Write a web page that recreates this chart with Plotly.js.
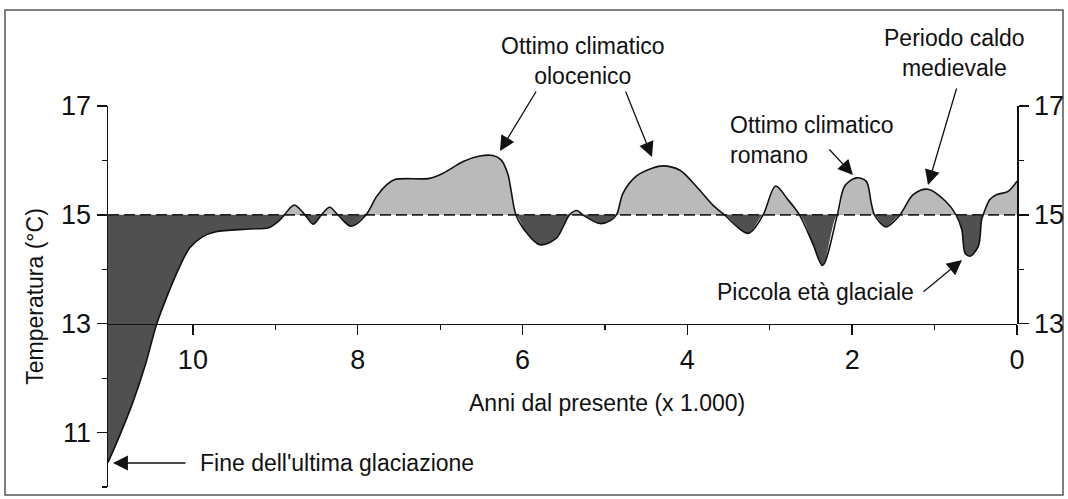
<!DOCTYPE html>
<html>
<head>
<meta charset="utf-8">
<script src="https://cdn.plot.ly/plotly-3.0.1.min.js"></script>
<style>html,body{margin:0;padding:0;background:#fff;}#chart{width:1068px;height:499px;}</style>
</head>
<body>
<div id="chart"></div>
<script>
// Years before present (x 1000) and temperature (°C)
const years = [11.03,10.89,10.73,10.57,10.44,10.28,10.16,10.04,9.88,9.72,9.31,9.07,8.95,8.89,8.77,8.64,8.54,8.44,8.34,8.24,8.08,7.90,7.77,7.65,7.55,7.13,6.97,6.72,6.52,6.36,6.26,6.18,6.14,6.08,5.95,5.79,5.59,5.43,5.34,5.27,5.06,4.94,4.86,4.78,4.62,4.42,4.30,4.09,3.89,3.69,3.55,3.26,3.08,2.93,2.78,2.64,2.48,2.36,2.18,2.09,1.95,1.83,1.77,1.73,1.59,1.42,1.26,1.08,0.86,0.74,0.67,0.63,0.57,0.47,0.43,0.41,0.33,0.25,0.11,0.0];
const temps = [10.45,10.94,11.55,12.28,12.99,13.63,14.05,14.39,14.60,14.69,14.74,14.77,14.90,15.0,15.18,15.0,14.83,15.0,15.14,15.0,14.79,15.0,15.34,15.55,15.65,15.67,15.76,15.98,16.08,16.09,16.01,15.76,15.46,15.0,14.67,14.45,14.57,15.0,15.08,15.0,14.84,14.89,15.0,15.40,15.71,15.86,15.90,15.82,15.52,15.18,15.0,14.66,15.0,15.53,15.28,15.0,14.48,14.07,15.0,15.53,15.68,15.62,15.23,15.0,14.78,15.0,15.37,15.47,15.24,15.0,14.73,14.30,14.24,14.42,14.91,15.0,15.28,15.37,15.43,15.62];
const refTemp = 15;
const xTickVals = [0,2,4,6,8,10];
const xMinorVals = [1,3,5,7,9];
const yTickVals = [11,13,15,17];
const yMinorVals = [10,12,14,16];
const y2TickVals = [13,15,17];
const y2MinorVals = [14,16];

const FONT = '"Liberation Sans", Arial, Helvetica, sans-serif';
const ML = 108, MR = 51, MT = 106, MB = 12, W = 1068, H = 499;
const PW = W - ML - MR, PH = H - MT - MB;
const px = v => (v - ML) / PW;
const py = v => (H - MB - v) / PH;

const xEnds = [years[0], years[years.length - 1]];
const above = temps.map(t => Math.max(t, refTemp));
const below = temps.map(t => Math.min(t, refTemp));
const sp = {shape: 'spline', smoothing: 0.9};

const traces = [
  {x: xEnds, y: [refTemp, refTemp], mode: 'lines', line: {width: 0}, hoverinfo: 'skip', showlegend: false},
  {x: years, y: above, mode: 'lines', fill: 'tonexty', fillcolor: '#bababa', line: Object.assign({width: 0}, sp), hoverinfo: 'skip', showlegend: false},
  {x: xEnds, y: [refTemp, refTemp], mode: 'lines', line: {width: 0}, hoverinfo: 'skip', showlegend: false},
  {x: years, y: below, mode: 'lines', fill: 'tonexty', fillcolor: '#505050', line: Object.assign({width: 0}, sp), hoverinfo: 'skip', showlegend: false},
  {x: xEnds, y: [refTemp, refTemp], mode: 'lines', line: {color: '#222', width: 1.6, dash: '11px,5px'}, hoverinfo: 'skip', showlegend: false},
  {x: years, y: temps, mode: 'lines', line: Object.assign({color: '#111', width: 1.6}, sp), showlegend: false},
  {x: [null], y: [null], xaxis: 'x', yaxis: 'y2', mode: 'lines', hoverinfo: 'skip', showlegend: false}
];

function label(text, x, y, xanchor, align, size) {
  return {xref: 'paper', yref: 'paper', x: px(x), y: py(y), text: text, showarrow: false,
    xanchor: xanchor || 'center', yanchor: 'middle', align: align || 'center',
    font: {family: FONT, size: size || 23, color: '#111'}};
}
function arrow(tx, ty, hx, hy) {
  return {xref: 'paper', yref: 'paper', x: px(hx), y: py(hy), ax: tx - hx, ay: ty - hy,
    text: '', showarrow: true, arrowhead: 2, arrowsize: 2.3, arrowwidth: 1.3, arrowcolor: '#111', standoff: 0};
}

const axisCommon = {
  showgrid: false, zeroline: false, showline: true, linecolor: '#111', linewidth: 1.5,
  ticks: 'outside', ticklen: 10, tickwidth: 1.5, tickcolor: '#111',
  tickfont: {family: FONT, size: 27, color: '#111'}, fixedrange: true
};

const layout = {
  width: W, height: H,
  margin: {l: ML, r: MR, t: MT, b: MB, pad: 0},
  paper_bgcolor: '#fff', plot_bgcolor: 'rgba(0,0,0,0)',
  showlegend: false,
  xaxis: Object.assign({}, axisCommon, {
    range: [years[0], 0], anchor: 'free', position: 3 / 7,
    tickmode: 'array', tickvals: xTickVals, ticktext: xTickVals.map(String),
    minor: {tickmode: 'array', tickvals: xMinorVals, ticks: 'outside', ticklen: 5, tickwidth: 1.2, tickcolor: '#111'},
    ticklabelstandoff: 1
  }),
  yaxis: Object.assign({}, axisCommon, {
    range: [10, 17], domain: [0, 1],
    tickmode: 'array', tickvals: yTickVals, ticktext: yTickVals.map(String),
    minor: {tickmode: 'array', tickvals: yMinorVals, ticks: 'outside', ticklen: 5, tickwidth: 1.2, tickcolor: '#111'},
    title: {text: 'Temperatura (°C)', font: {family: FONT, size: 23, color: '#111'}, standoff: 11}
  }),
  yaxis2: Object.assign({}, axisCommon, {
    range: [13, 17], domain: [3 / 7, 1], anchor: 'x', side: 'right',
    tickmode: 'array', tickvals: y2TickVals, ticktext: y2TickVals.map(String),
    minor: {tickmode: 'array', tickvals: y2MinorVals, ticks: 'outside', ticklen: 5, tickwidth: 1.2, tickcolor: '#111'}
  }),
  shapes: [
    {type: 'rect', xref: 'paper', yref: 'paper', x0: px(5), x1: px(1063), y0: py(495), y1: py(10),
      line: {color: '#555', width: 1.5}, fillcolor: 'rgba(0,0,0,0)', layer: 'below'}
  ],
  annotations: [
    label('Anni dal presente (x 1.000)', 607, 403),
    label('Ottimo climatico<br>olocenico', 583, 61),
    arrow(537, 90, 500, 151),
    arrow(625, 90, 652, 157),
    label('Ottimo climatico<br>romano', 728, 140, 'left', 'left'),
    arrow(828, 148, 853, 175),
    label('Periodo caldo<br>medievale', 954, 53),
    arrow(957, 87, 928, 185),
    label('Piccola età glaciale', 715, 292, 'left', 'left'),
    arrow(922, 293, 962, 260),
    label("Fine dell'ultima glaciazione", 198, 463, 'left', 'left'),
    arrow(187, 463, 113, 463)
  ]
};

Plotly.newPlot('chart', traces, layout, {staticPlot: true, displayModeBar: false});
</script>
</body>
</html>
